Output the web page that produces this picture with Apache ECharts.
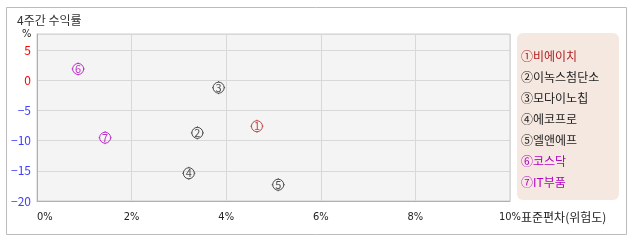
<!DOCTYPE html>
<html><head><meta charset="utf-8">
<script src="https://cdn.jsdelivr.net/npm/echarts@6/dist/echarts.min.js"></script>
<style>html,body{margin:0;padding:0;background:#fff}#c{width:638px;height:242px}</style>
</head><body><div id="c"></div>
<script>
var seriesNames = ['①비에이치','②이녹스첨단소','③모다이노칩','④에코프로','⑤엘앤에프','⑥코스닥','⑦IT부품'];
var markerDigits = ['1','2','3','4','5','6','7'];
var riskX = [4.65, 3.39, 3.84, 3.21, 5.10, 0.87, 1.44];
var returnY = [-7.6, -8.7, -1.2, -15.4, -17.3, 1.9, -9.5];
var xTicks = [0, 2, 4, 6, 8, 10];
var yTicks = [-20, -15, -10, -5, 0, 5];
var titleText = '4주간 수익률';
var xAxisName = '표준편차(위험도)';
var yAxisName = '%';

var colors = ['#b02020','#222222','#222222','#222222','#222222','#b000c0','#b000c0'];
var FONT = '"Noto Sans CJK KR", sans-serif';
var NARROW = '"Liberation Sans Narrow", "DejaVu Sans Condensed", sans-serif';
var markerPath = 'path://M0,-5.5A5.5,5.5,0,1,1,0,5.5A5.5,5.5,0,1,1,0,-5.5ZM0,-6.5L0,-5.5M0,5.5L0,6.5M-6.5,0L-5.5,0M5.5,0L6.5,0';

var chart = echarts.init(document.getElementById('c'), null, {renderer:'canvas'});
var series = seriesNames.map(function(n, i){
  return {
    name: n, type: 'scatter',
    data: [[riskX[i], returnY[i]]],
    symbol: markerPath, symbolSize: 13,
    itemStyle: {color: 'rgba(0,0,0,0)', borderColor: colors[i], borderWidth: 1},
    label: {show: true, position: 'inside', formatter: markerDigits[i], color: colors[i], fontSize: 11, fontFamily: FONT},
    emphasis: {disabled: true}
  };
});
chart.setOption({
  animation: false,
  textStyle: {fontFamily: FONT},
  grid: {left: 37, top: 34, right: 128, bottom: 41, show: true, backgroundColor: '#f4f4f4', borderColor: '#cccccc', borderWidth: 1},
  graphic: [
    {type:'rect', shape:{x:6.5, y:7.5, width:620, height:227}, style:{fill:'none', stroke:'#bbbbbb', lineWidth:1}, z:-10},
    {type:'rect', shape:{x:517, y:33, width:102, height:167, r:6}, style:{fill:'#f5e8e0'}, z:-5},
    {type:'text', left:17, top:14, style:{text:titleText, fill:'#333', font:'12px '+FONT}},
    {type:'text', left:22, top:29, style:{text:yAxisName, fill:'#222', font:'11px '+NARROW}},
    {type:'text', left:521, top:211, style:{text:xAxisName, fill:'#222', font:'12px '+FONT}}
  ],
  legend: {
    orient: 'vertical', left: 515, top: 48, itemGap: 5, padding: 0,
    itemWidth: 0, itemHeight: 14, icon: 'rect', itemStyle: {opacity: 0},
    selectedMode: false,
    textStyle: {fontSize: 12, lineHeight: 14, fontFamily: FONT},
    data: seriesNames.map(function(n, i){ return {name: n, textStyle: {color: colors[i]}}; })
  },
  xAxis: {
    type: 'value', min: xTicks[0], max: xTicks[xTicks.length-1], interval: 2,
    axisLine: {show: true, onZero: false, lineStyle: {color: '#b0b0b0'}},
    axisTick: {show: false},
    splitLine: {show: true, lineStyle: {color: '#d8d8d8'}},
    axisLabel: {formatter: '{value}%', color: '#222', fontSize: 11, fontFamily: NARROW, margin: 11, alignMinLabel: 'left'}
  },
  yAxis: {
    type: 'value', min: yTicks[0], max: 7.7, interval: 5,
    axisLine: {show: true, onZero: false, lineStyle: {color: '#b0b0b0'}},
    axisTick: {show: false},
    splitLine: {show: true, lineStyle: {color: '#d8d8d8'}},
    axisLabel: {showMaxLabel: false, margin: 6, fontSize: 12,
      color: function(v){ return Number(v) >= 0 ? '#ff0000' : '#4040ff'; },
      formatter: function(v){ return v < 0 ? '−' + Math.abs(v) : String(v); }}
  },
  series: series
});
</script></body></html>
